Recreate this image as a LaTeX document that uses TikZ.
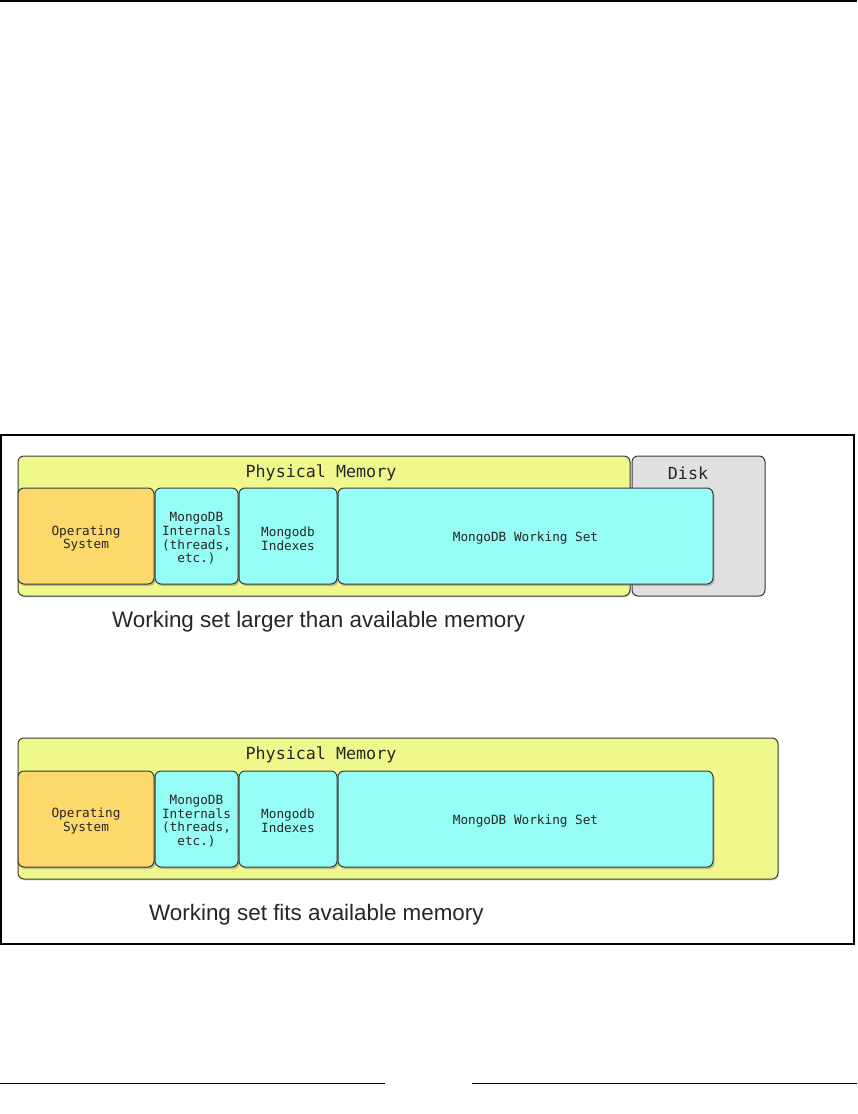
\documentclass[tikz,border=0pt]{standalone}
\usepackage{fontspec}
\setmainfont{Liberation Sans}
\newfontfamily\monof{DejaVu Sans Mono}
\usetikzlibrary{shadows}
\definecolor{memyel}{HTML}{EFF88A}
\definecolor{osorange}{HTML}{FDD86B}
\definecolor{cyanbox}{HTML}{96FDF6}
\definecolor{diskgray}{HTML}{E0E0E0}
\definecolor{edgegray}{HTML}{3A3A3A}
\begin{document}
\begin{tikzpicture}[x=1pt,y=-1pt,
  membox/.style={draw=edgegray, line width=1pt, rounded corners=6pt, fill=memyel,
    drop shadow={opacity=0.25, shadow xshift=1pt, shadow yshift=-1.5pt}},
  diskbox/.style={draw=edgegray, line width=1pt, rounded corners=6pt, fill=diskgray},
  partbox/.style={draw=edgegray, line width=1pt, rounded corners=6pt,
    drop shadow={opacity=0.45, shadow xshift=1.5pt, shadow yshift=-2pt}},
  biglabel/.style={font=\monof\fontsize{16.7}{18}\selectfont, text=black!85, inner sep=0pt},
  smalllabel/.style={font=\monof\fontsize{12.7}{13.6}\selectfont, text=black!85, align=center, inner sep=0pt},
  caption/.style={font=\fontsize{22.4}{26}\selectfont, text=black!85, inner sep=0pt, anchor=west},
  rule/.style={line width=2pt, black}
]
\useasboundingbox (0,0) rectangle (857,1114);

% page rules
\coordinate (tl) at (0,1);
\coordinate (tr) at (857,1);
\draw[rule] (tl) -- (tr);
\coordinate (bl1) at (0,1083.5);
\coordinate (bl2) at (385,1083.5);
\coordinate (br1) at (472,1083.5);
\coordinate (br2) at (857,1083.5);
\draw[line width=1.5pt] (bl1) -- (bl2);
\draw[line width=1.5pt] (br1) -- (br2);

% frame
\draw[line width=2pt] (1,435) rectangle (854,944);

% ---------- top diagram ----------
\path[membox] (18,456) rectangle (630,596);
\path[diskbox] (632,456) rectangle (765,596);
\node[biglabel] (pm1) at (321,473) {Physical Memory};
\node[biglabel] (disk) at (688,473) {Disk};

\path[partbox, fill=osorange] (18,488) rectangle (154,584);
\path[partbox, fill=cyanbox] (155,488) rectangle (238,584);
\path[partbox, fill=cyanbox] (239,488) rectangle (337,584);
\path[partbox, fill=cyanbox] (338,488) rectangle (713,584);
\node[smalllabel] (os1) at (86,538.5) {Operating\\System};
\node[smalllabel] (int1) at (196.5,538.5) {MongoDB\\Internals\\(threads,\\etc.)};
\node[smalllabel] (idx1) at (288,538.5) {Mongodb\\Indexes};
\node[smalllabel] (ws1) at (525.5,538.5) {MongoDB Working Set};

\node[caption] (cap1) at (112,621.5) {Working set larger than available memory};

% ---------- bottom diagram ----------
\path[membox] (18,738) rectangle (778,879);
\node[biglabel] (pm2) at (321,755) {Physical Memory};

\path[partbox, fill=osorange] (18,771) rectangle (154,867);
\path[partbox, fill=cyanbox] (155,771) rectangle (238,867);
\path[partbox, fill=cyanbox] (239,771) rectangle (337,867);
\path[partbox, fill=cyanbox] (338,771) rectangle (713,867);
\node[smalllabel] (os2) at (86,821) {Operating\\System};
\node[smalllabel] (int2) at (196.5,821) {MongoDB\\Internals\\(threads,\\etc.)};
\node[smalllabel] (idx2) at (288,821) {Mongodb\\Indexes};
\node[smalllabel] (ws2) at (525.5,821) {MongoDB Working Set};

\node[caption] (cap2) at (149,914.5) {Working set fits available memory};
\end{tikzpicture}
\end{document}
